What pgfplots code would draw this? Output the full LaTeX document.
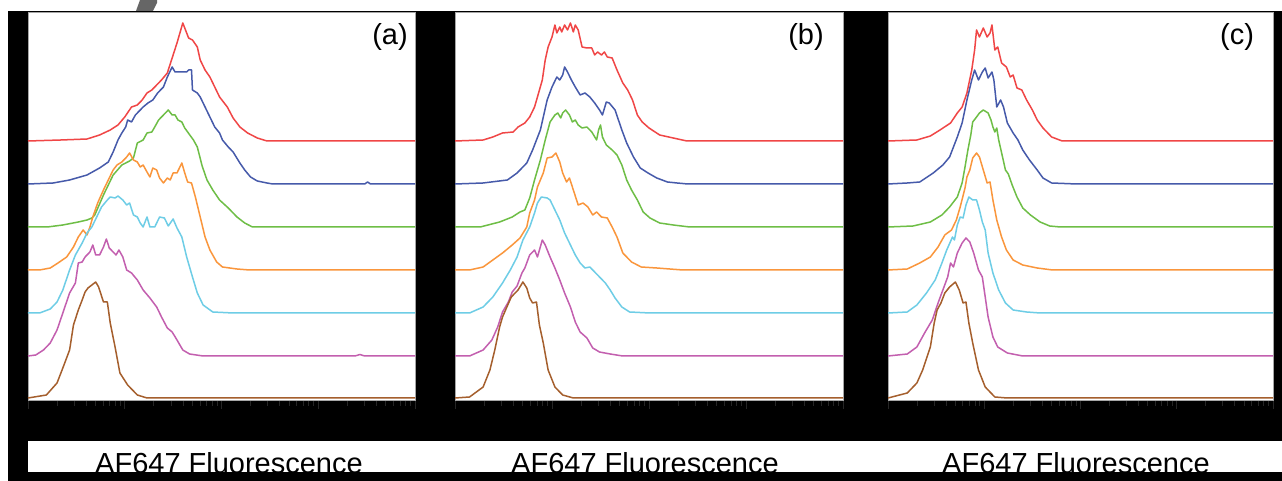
\documentclass[border=0pt]{standalone}
\usepackage{pgfplots}
\pgfplotsset{compat=1.18}
\usepackage{fontspec}
\setmainfont{Liberation Sans}
\definecolor{cred}{HTML}{F04646}
\definecolor{cblue}{HTML}{465AAA}
\definecolor{cgreen}{HTML}{6EBE46}
\definecolor{corange}{HTML}{FA963C}
\definecolor{ccyan}{HTML}{6ECDE6}
\definecolor{cmag}{HTML}{C35FAF}
\definecolor{cbrown}{HTML}{A55F2D}
\pgfplotsset{ridge/.style={
  scale only axis, height=388pt,
  xmin=0, xmax=4, ymin=-2, ymax=386,
  axis background/.style={fill=white},
  axis line style={draw=gray!70, line width=0.8pt},
  xtick={0,1,2,3,4},
  xticklabels={$10^{0}$,$10^{1}$,$10^{2}$,$10^{3}$,$10^{4}$},
  minor xtick={0.301,0.477,0.602,0.699,0.778,0.845,0.903,0.954,
    1.301,1.477,1.602,1.699,1.778,1.845,1.903,1.954,
    2.301,2.477,2.602,2.699,2.778,2.845,2.903,2.954,
    3.301,3.477,3.602,3.699,3.778,3.845,3.903,3.954},
  ytick=\empty, xtick pos=lower, tick align=outside,
  major tick length=9pt, minor tick length=6pt,
  tick style={black!85, line width=0.8pt},
  xticklabel style={text=black, font=\fontsize{24}{26}\selectfont, yshift=-3pt},
  every axis plot/.append style={line width=1.5pt, line join=round, no markers},
}}
\begin{document}
\begin{tikzpicture}[x=1pt,y=1pt]
\useasboundingbox (0,0) rectangle (1282,481);
\fill[white] (0,0) rectangle (1282,481);
\fill[black] (8,0) rectangle (1282,470);
\fill[black!60] (136,470) -- (140,481) -- (157,481) -- (157,478) -- (153,470) -- cycle;

% ---------- panel (a)
\begin{axis}[ridge, width=387pt, at={(28pt,81pt)}, anchor=south west]
\addplot[cred] coordinates {(0,257)(0.34,258)(0.61,259)(0.74,263)(0.85,268)(0.93,273)(1.00,281)(1.07,291)(1.13,293)(1.18,298)(1.23,305)(1.28,308)(1.33,313)(1.38,318)(1.44,325)(1.49,340)(1.54,355)(1.57,365)(1.60,375)(1.64,365)(1.66,360)(1.70,358)(1.75,351)(1.78,338)(1.83,328)(1.88,321)(1.93,311)(1.98,301)(2.06,291)(2.12,280)(2.19,271)(2.27,265)(2.37,260)(2.47,257)(4,257)};
\addplot[cblue] coordinates {(0,214)(0.26,215)(0.43,218)(0.61,223)(0.74,230)(0.83,236)(0.88,246)(0.93,258)(0.97,265)(1.01,271)(1.03,278)(1.07,276)(1.11,283)(1.19,291)(1.24,295)(1.29,298)(1.34,305)(1.40,311)(1.44,321)(1.49,331)(1.52,326)(1.59,326)(1.64,326)(1.66,328)(1.69,328)(1.70,308)(1.75,305)(1.78,301)(1.83,291)(1.88,281)(1.93,271)(1.98,265)(2.01,258)(2.07,251)(2.12,246)(2.19,235)(2.24,228)(2.30,221)(2.37,217)(2.47,215)(2.53,214)(3.48,214)(3.51,216)(3.54,214)(4,214)};
\addplot[cgreen] coordinates {(0,171)(0.20,171)(0.36,173)(0.52,176)(0.61,178)(0.66,180)(0.69,183)(0.78,203)(0.88,223)(0.97,233)(1.05,237)(1.09,240)(1.13,255)(1.19,258)(1.23,265)(1.28,266)(1.31,271)(1.35,278)(1.40,283)(1.45,288)(1.49,283)(1.52,283)(1.55,278)(1.59,276)(1.62,270)(1.65,266)(1.71,258)(1.75,251)(1.80,232)(1.85,218)(1.91,208)(1.98,198)(2.07,190)(2.16,181)(2.24,175)(2.32,171)(4,171)};
\addplot[corange] coordinates {(0,128)(0.12,128)(0.23,130)(0.31,135)(0.40,141)(0.47,151)(0.52,161)(0.57,168)(0.61,163)(0.64,171)(0.67,181)(0.72,195)(0.78,208)(0.83,218)(0.88,228)(0.92,233)(0.97,236)(1.02,241)(1.05,245)(1.09,238)(1.13,236)(1.16,231)(1.19,233)(1.23,226)(1.26,221)(1.29,230)(1.33,228)(1.36,220)(1.40,215)(1.44,220)(1.47,218)(1.50,225)(1.54,225)(1.59,235)(1.62,225)(1.65,216)(1.69,215)(1.73,201)(1.78,181)(1.83,161)(1.88,148)(1.95,136)(2.01,131)(2.16,129)(2.29,128)(4,128)};
\addplot[ccyan] coordinates {(0,85)(0.12,85)(0.23,89)(0.30,96)(0.36,108)(0.43,128)(0.49,143)(0.56,155)(0.61,165)(0.66,171)(0.71,181)(0.76,191)(0.82,198)(0.85,201)(0.90,200)(0.93,202)(0.98,198)(1.02,193)(1.05,195)(1.09,183)(1.13,181)(1.16,175)(1.19,171)(1.23,181)(1.26,171)(1.31,171)(1.36,181)(1.41,180)(1.45,172)(1.50,179)(1.54,170)(1.59,161)(1.64,141)(1.70,121)(1.75,105)(1.81,93)(1.91,86)(2.12,85)(4,85)};
\addplot[cmag] coordinates {(0,42)(0.08,43)(0.16,48)(0.23,55)(0.30,68)(0.36,85)(0.43,105)(0.49,115)(0.52,135)(0.56,136)(0.59,141)(0.64,146)(0.67,153)(0.70,143)(0.74,143)(0.78,151)(0.81,159)(0.84,150)(0.88,146)(0.91,143)(0.94,148)(0.98,141)(1.02,128)(1.07,125)(1.13,118)(1.19,108)(1.26,100)(1.33,91)(1.38,81)(1.44,70)(1.49,66)(1.54,58)(1.60,48)(1.67,44)(1.81,42)(3.38,42)(3.43,43.5)(3.48,42)(4,42)};
\addplot[cbrown] coordinates {(0,0)(0.19,3)(0.30,15)(0.36,30)(0.43,48)(0.47,73)(0.52,88)(0.56,98)(0.59,106)(0.62,110)(0.66,113)(0.70,116)(0.73,111)(0.78,96)(0.82,96)(0.85,75)(0.90,51)(0.95,25)(1.03,13)(1.13,3)(1.23,0)(4,0)};
\end{axis}

% ---------- panel (b)
\begin{axis}[ridge, width=388pt, at={(455pt,81pt)}, anchor=south west]
\addplot[cred] coordinates {(0,257)(0.29,258)(0.39,261)(0.49,265)(0.60,266)(0.65,271)(0.72,275)(0.77,281)(0.82,291)(0.85,301)(0.90,318)(0.93,338)(0.96,351)(1.00,361)(1.03,373)(1.05,365)(1.08,371)(1.10,366)(1.13,373)(1.16,368)(1.19,375)(1.22,366)(1.24,373)(1.27,368)(1.31,351)(1.36,350)(1.41,350)(1.44,343)(1.47,346)(1.51,343)(1.54,346)(1.57,341)(1.62,340)(1.67,328)(1.73,315)(1.78,308)(1.83,298)(1.88,283)(1.93,276)(2.00,270)(2.11,263)(2.25,260)(2.39,257)(4,257)};
\addplot[cblue] coordinates {(0,214)(0.29,215)(0.54,218)(0.64,225)(0.74,235)(0.80,248)(0.88,268)(0.95,298)(1.00,311)(1.05,321)(1.08,318)(1.11,323)(1.13,331)(1.16,326)(1.20,318)(1.24,311)(1.29,303)(1.34,305)(1.39,301)(1.44,295)(1.49,288)(1.52,283)(1.56,296)(1.59,295)(1.65,288)(1.72,268)(1.77,255)(1.84,241)(1.91,230)(1.99,225)(2.08,220)(2.19,216)(2.29,215)(2.40,214)(4,214)};
\addplot[cgreen] coordinates {(0,171)(0.26,171)(0.46,176)(0.59,181)(0.67,186)(0.72,188)(0.77,200)(0.82,218)(0.88,238)(0.93,258)(0.98,276)(1.03,283)(1.06,285)(1.09,280)(1.11,285)(1.14,288)(1.18,283)(1.21,276)(1.24,278)(1.27,273)(1.31,270)(1.36,271)(1.41,266)(1.46,258)(1.48,268)(1.50,273)(1.52,261)(1.56,253)(1.62,248)(1.67,243)(1.72,233)(1.77,218)(1.82,208)(1.88,198)(1.94,186)(2.01,180)(2.11,175)(2.25,173)(2.42,171)(4,171)};
\addplot[corange] coordinates {(0,128)(0.15,128)(0.29,131)(0.39,138)(0.49,145)(0.59,153)(0.67,160)(0.74,171)(0.77,185)(0.82,198)(0.85,211)(0.91,225)(0.95,240)(1.00,241)(1.04,245)(1.08,236)(1.11,225)(1.15,216)(1.18,220)(1.22,208)(1.27,193)(1.32,195)(1.37,191)(1.42,183)(1.46,186)(1.51,181)(1.57,180)(1.62,171)(1.67,161)(1.73,145)(1.82,136)(1.92,131)(2.08,130)(2.35,128)(4,128)};
\addplot[ccyan] coordinates {(0,85)(0.15,85)(0.29,91)(0.39,101)(0.49,115)(0.57,128)(0.64,141)(0.70,158)(0.77,171)(0.82,185)(0.85,195)(0.89,201)(0.95,200)(0.98,198)(1.03,188)(1.08,178)(1.13,165)(1.19,153)(1.24,143)(1.29,135)(1.34,130)(1.39,131)(1.44,126)(1.49,121)(1.55,115)(1.60,108)(1.65,100)(1.72,91)(1.80,86)(2.01,85)(4,85)};
\addplot[cmag] coordinates {(0,42)(0.15,42)(0.29,48)(0.38,58)(0.44,71)(0.49,86)(0.55,96)(0.59,106)(0.64,112)(0.69,125)(0.72,130)(0.77,143)(0.82,148)(0.85,141)(0.90,158)(0.93,153)(0.98,141)(1.03,130)(1.08,118)(1.13,105)(1.19,91)(1.24,76)(1.29,66)(1.36,60)(1.42,50)(1.49,46)(1.60,44)(1.73,42)(4,42)};
\addplot[cbrown] coordinates {(0,0)(0.15,1)(0.29,11)(0.36,28)(0.41,48)(0.46,71)(0.49,81)(0.53,90)(0.58,101)(0.65,108)(0.70,116)(0.74,110)(0.77,100)(0.80,95)(0.84,96)(0.87,73)(0.91,55)(0.96,28)(1.03,11)(1.11,3)(1.22,0)(4,0)};
\end{axis}

% ---------- panel (c)
\begin{axis}[ridge, width=385pt, at={(888pt,81pt)}, anchor=south west]
\addplot[cred] coordinates {(0,257)(0.30,258)(0.44,262)(0.54,268)(0.65,275)(0.72,285)(0.77,291)(0.82,305)(0.87,328)(0.90,348)(0.92,368)(0.95,361)(0.99,370)(1.03,361)(1.06,365)(1.08,373)(1.11,348)(1.14,351)(1.18,335)(1.23,331)(1.27,321)(1.30,323)(1.34,310)(1.39,308)(1.44,298)(1.50,288)(1.55,278)(1.61,270)(1.70,261)(1.81,257)(4,257)};
\addplot[cblue] coordinates {(0,214)(0.20,215)(0.33,216)(0.47,225)(0.57,233)(0.64,241)(0.72,261)(0.77,275)(0.82,298)(0.87,318)(0.90,328)(0.94,318)(0.98,326)(1.01,330)(1.04,320)(1.08,326)(1.10,318)(1.13,291)(1.17,298)(1.20,291)(1.24,275)(1.30,265)(1.35,258)(1.40,248)(1.47,238)(1.55,228)(1.61,220)(1.70,215)(1.96,214)(4,214)};
\addplot[cgreen] coordinates {(0,171)(0.26,172)(0.44,176)(0.56,183)(0.64,191)(0.72,201)(0.77,215)(0.80,231)(0.83,248)(0.86,263)(0.88,276)(0.92,281)(0.95,285)(0.99,288)(1.04,285)(1.07,278)(1.09,271)(1.11,266)(1.13,270)(1.15,258)(1.19,241)(1.22,228)(1.25,224)(1.29,213)(1.34,201)(1.40,190)(1.48,183)(1.58,176)(1.68,172)(1.79,171)(4,171)};
\addplot[corange] coordinates {(0,128)(0.20,129)(0.33,135)(0.44,141)(0.52,151)(0.59,163)(0.66,168)(0.71,178)(0.75,191)(0.80,210)(0.82,221)(0.85,228)(0.88,240)(0.92,245)(0.95,241)(0.99,228)(1.03,215)(1.06,216)(1.09,198)(1.13,178)(1.18,161)(1.23,148)(1.30,138)(1.40,133)(1.55,130)(1.71,128)(4,128)};
\addplot[ccyan] coordinates {(0,85)(0.20,86)(0.30,93)(0.40,105)(0.49,118)(0.56,135)(0.61,148)(0.67,161)(0.69,158)(0.72,173)(0.75,181)(0.78,180)(0.81,193)(0.84,201)(0.88,198)(0.92,198)(0.95,188)(0.98,176)(1.01,168)(1.04,145)(1.09,125)(1.15,108)(1.22,95)(1.30,88)(1.44,86)(1.58,85)(4,85)};
\addplot[cmag] coordinates {(0,42)(0.20,44)(0.30,51)(0.38,65)(0.46,78)(0.52,95)(0.57,108)(0.62,121)(0.65,135)(0.68,131)(0.72,145)(0.77,155)(0.81,160)(0.85,156)(0.89,145)(0.94,128)(0.98,121)(1.01,101)(1.04,81)(1.09,61)(1.14,51)(1.24,45)(1.40,42)(4,42)};
\addplot[cbrown] coordinates {(0,0)(0.20,5)(0.30,15)(0.36,28)(0.44,51)(0.48,75)(0.51,88)(0.55,95)(0.59,105)(0.64,111)(0.70,116)(0.74,108)(0.78,95)(0.81,96)(0.84,75)(0.88,55)(0.94,28)(1.01,11)(1.11,1)(1.24,0)(4,0)};
\end{axis}

% panel letters
\node[font=\fontsize{29}{34}\selectfont] at (390,444) {(a)};
\node[font=\fontsize{29}{34}\selectfont] at (806,444) {(b)};
\node[font=\fontsize{29}{34}\selectfont] at (1237,444) {(c)};

% axis title strip
\fill[white] (28,9) rectangle (1282,39.5);
\node[anchor=base, font=\fontsize{29}{34}\selectfont, inner sep=0pt] at (229,7) {AF647 Fluorescence};
\node[anchor=base, font=\fontsize{29}{34}\selectfont, inner sep=0pt] at (645,7) {AF647 Fluorescence};
\node[anchor=base, font=\fontsize{29}{34}\selectfont, inner sep=0pt] at (1076,7) {AF647 Fluorescence};
\fill[black] (8,0) rectangle (1282,9);
\end{tikzpicture}
\end{document}
